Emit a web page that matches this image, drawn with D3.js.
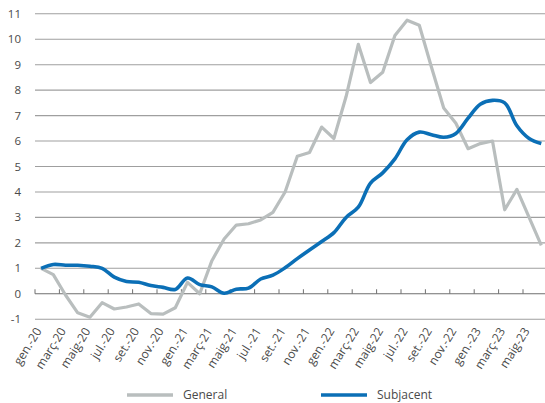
<!DOCTYPE html>
<html>
<head>
<meta charset="utf-8">
<script src="https://cdn.jsdelivr.net/npm/d3@7"></script>
<style>
  html, body { margin: 0; padding: 0; background: #fff; }
  svg { display: block; font-family: "Open Sans", "Liberation Sans", sans-serif; }
</style>
</head>
<body>
<svg id="chart" width="545" height="403"></svg>
<script>
// Monthly categories, Jan 2020 – Jun 2023
const months = [
  "gen.-20","febr.-20","març-20","abr.-20","maig-20","juny-20","jul.-20","ag.-20","set.-20","oct.-20","nov.-20","des.-20",
  "gen.-21","febr.-21","març-21","abr.-21","maig-21","juny-21","jul.-21","ag.-21","set.-21","oct.-21","nov.-21","des.-21",
  "gen.-22","febr.-22","març-22","abr.-22","maig-22","juny-22","jul.-22","ag.-22","set.-22","oct.-22","nov.-22","des.-22",
  "gen.-23","febr.-23","març-23","abr.-23","maig-23","juny-23"
];

// Year-on-year rate, %
const general = [
  1.0, 0.75, -0.05, -0.75, -0.92, -0.35, -0.6, -0.52, -0.4, -0.78, -0.8, -0.55,
  0.45, 0.0, 1.3, 2.15, 2.7, 2.75, 2.9, 3.2, 4.0, 5.4, 5.55, 6.55,
  6.1, 7.75, 9.8, 8.3, 8.7, 10.15, 10.75, 10.55, 8.9, 7.3, 6.7, 5.7,
  5.9, 6.0, 3.3, 4.1, 3.0, 1.9
];
const subjacent = [
  1.0, 1.15, 1.12, 1.12, 1.08, 1.0, 0.65, 0.48, 0.45, 0.32, 0.25, 0.17,
  0.62, 0.36, 0.27, 0.02, 0.18, 0.22, 0.58, 0.73, 1.02, 1.38, 1.72, 2.05,
  2.4, 3.0, 3.4, 4.35, 4.75, 5.3, 6.05, 6.35, 6.25, 6.15, 6.3, 6.9,
  7.45, 7.6, 7.5, 6.6, 6.1, 5.9
];

const yTicks = [-1, 0, 1, 2, 3, 4, 5, 6, 7, 8, 9, 10, 11];
const seriesNames = ["General", "Subjacent"];
const colors = { General: "#b9bebe", Subjacent: "#0b6fb6" };

const svg = d3.select("#chart");

const x = d3.scaleBand().domain(months).range([35, 547.4]).padding(0);
const cx = m => x(m) + x.bandwidth() / 2;
const y = d3.scaleLinear().domain([-1, 11]).range([319.2, 13.8]);

// Horizontal gridlines
svg.append("g")
  .selectAll("line")
  .data(yTicks.filter(v => v !== 0))
  .join("line")
  .attr("x1", 35).attr("x2", 545)
  .attr("y1", d => y(d)).attr("y2", d => y(d))
  .attr("stroke", "#9f9f9f")
  .attr("stroke-width", 1.1);

// Y axis labels
svg.append("g")
  .selectAll("text")
  .data(yTicks)
  .join("text")
  .attr("x", 21)
  .attr("y", d => y(d) + 4)
  .attr("text-anchor", "end")
  .attr("font-size", 11.5)
  .attr("fill", "#4a4a4a")
  .text(d => d);

// Zero axis with tick marks every two months
const axisG = svg.append("g");
axisG.append("line")
  .attr("x1", 35).attr("x2", 545)
  .attr("y1", y(0)).attr("y2", y(0))
  .attr("stroke", "#6f6f6f")
  .attr("stroke-width", 1.2);
axisG.selectAll("line.tick")
  .data(months.filter((m, i) => i % 2 === 0))
  .join("line")
  .attr("class", "tick")
  .attr("x1", d => x(d)).attr("x2", d => x(d))
  .attr("y1", y(0) - 4.5).attr("y2", y(0))
  .attr("stroke", "#6f6f6f")
  .attr("stroke-width", 1);

// Rotated month labels
svg.append("g")
  .selectAll("text")
  .data(months.filter((m, i) => i % 2 === 0))
  .join("text")
  .attr("transform", d => `translate(${cx(d) + 1},${331}) rotate(-58)`)
  .attr("text-anchor", "end")
  .attr("font-size", 12)
  .attr("fill", "#4a4a4a")
  .text(d => d);

// Lines
const lineStraight = d3.line()
  .x((d, i) => cx(months[i]))
  .y(d => y(d));
const lineSmooth = d3.line()
  .x((d, i) => cx(months[i]))
  .y(d => y(d))
  .curve(d3.curveCatmullRom.alpha(0.5));

svg.append("path")
  .datum(general)
  .attr("d", lineStraight)
  .attr("fill", "none")
  .attr("stroke", colors.General)
  .attr("stroke-width", 3.2)
  .attr("stroke-linejoin", "round");

svg.append("path")
  .datum(subjacent)
  .attr("d", lineSmooth)
  .attr("fill", "none")
  .attr("stroke", colors.Subjacent)
  .attr("stroke-width", 3.6)
  .attr("stroke-linejoin", "round");

// Legend
const legendX = { General: 127, Subjacent: 321 };
const legend = svg.append("g")
  .selectAll("g")
  .data(seriesNames)
  .join("g")
  .attr("transform", d => `translate(${legendX[d]},395)`);
legend.append("line")
  .attr("x1", 0).attr("x2", 46)
  .attr("y1", 0).attr("y2", 0)
  .attr("stroke", d => colors[d])
  .attr("stroke-width", 3.6);
legend.append("text")
  .attr("x", 56)
  .attr("y", 4.2)
  .attr("font-size", 12)
  .attr("fill", "#4a4a4a")
  .text(d => d);
</script>
</body>
</html>
